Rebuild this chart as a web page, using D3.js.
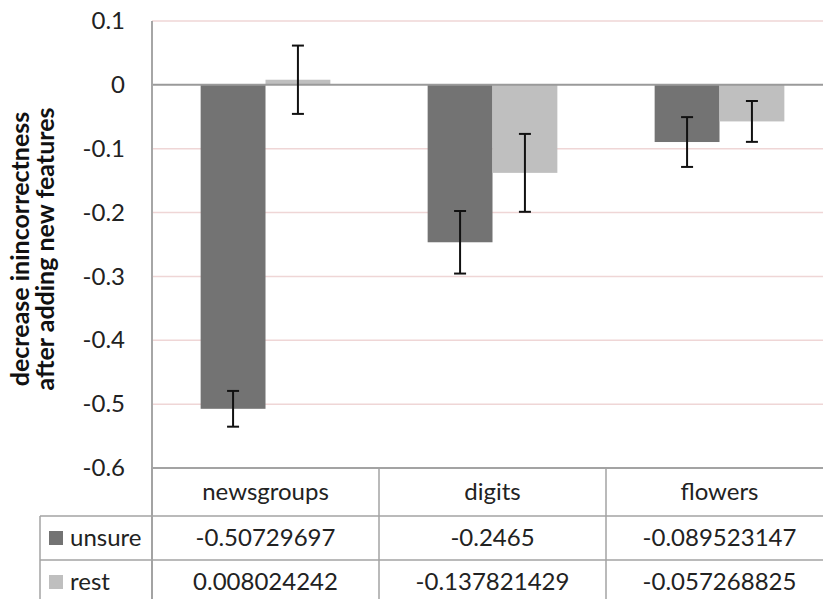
<!DOCTYPE html>
<html>
<head>
<meta charset="utf-8">
<script src="https://cdn.jsdelivr.net/npm/d3@7"></script>
<style>
  html, body { margin: 0; padding: 0; background: #fff; }
  svg { display: block; font-family: Lato, "Open Sans", sans-serif; }
</style>
</head>
<body>
<svg id="chart" width="823" height="599"></svg>
<script>
const categories = ["newsgroups", "digits", "flowers"];
const seriesNames = ["unsure", "rest"];
const unsureValues = [-0.50729697, -0.2465, -0.089523147];
const restValues = [0.008024242, -0.137821429, -0.057268825];
const unsureLabels = ["-0.50729697", "-0.2465", "-0.089523147"];
const restLabels = ["0.008024242", "-0.137821429", "-0.057268825"];
const unsureErrors = [0.028, 0.049, 0.039];
const restErrors = [0.0535, 0.061, 0.032];
const yTicks = [0.1, 0, -0.1, -0.2, -0.3, -0.4, -0.5, -0.6];
const yTickLabels = ["0.1", "0", "-0.1", "-0.2", "-0.3", "-0.4", "-0.5", "-0.6"];
const yLabelLines = ["decrease inincorrectness", "after adding new features"];

const colors = { unsure: "#737373", rest: "#bfbfbf" };
const seriesData = [
  { name: "unsure", values: unsureValues, errors: unsureErrors, labels: unsureLabels },
  { name: "rest", values: restValues, errors: restErrors, labels: restLabels }
];

const svg = d3.select("#chart");
const plotLeft = 152, plotRight = 833, plotTop = 21, plotBottom = 468;
const tableLeft = 40;
const rowH = [48, 44, 44];
const fs = 24;

const y = d3.scaleLinear().domain([-0.6, 0.1]).range([plotBottom, plotTop]);
const x0 = d3.scaleBand().domain(categories).range([plotLeft, plotRight]).paddingInner(0).paddingOuter(0);
const x1 = d3.scaleBand().domain(seriesNames).range([0, x0.bandwidth()]).paddingInner(0).paddingOuter(0.75);

// gridlines
svg.append("g").selectAll("line").data(yTicks.filter(t => t !== 0 && t !== -0.6)).join("line")
  .attr("x1", plotLeft).attr("x2", plotRight)
  .attr("y1", d => y(d)).attr("y2", d => y(d))
  .attr("stroke", "#efd6d6").attr("stroke-width", 1.5);

// y tick labels
const yAxis = d3.axisLeft(y).tickValues(yTicks).tickSize(0).tickPadding(27)
  .tickFormat((d, i) => yTickLabels[i]);
const ya = svg.append("g").attr("transform", `translate(${plotLeft},0)`).call(yAxis);
ya.select(".domain").remove();
ya.selectAll("text").attr("font-size", fs).attr("fill", "#222").attr("font-family", "Lato, sans-serif");

// bars
const groups = svg.append("g").selectAll("g").data(seriesData).join("g");
groups.selectAll("rect").data(s => s.values.map((v, i) => ({ s: s.name, v, i }))).join("rect")
  .attr("x", d => x0(categories[d.i]) + x1(d.s))
  .attr("width", x1.bandwidth())
  .attr("y", d => Math.min(y(0), y(d.v)))
  .attr("height", d => Math.abs(y(d.v) - y(0)))
  .attr("fill", d => colors[d.s]);

// zero line and axes
svg.append("line").attr("x1", plotLeft).attr("x2", plotRight).attr("y1", y(0)).attr("y2", y(0))
  .attr("stroke", "#9a9a9a").attr("stroke-width", 2);
svg.append("line").attr("x1", plotLeft).attr("x2", plotLeft).attr("y1", plotTop).attr("y2", plotBottom)
  .attr("stroke", "#a6a6a6").attr("stroke-width", 2);

// error bars
const eb = svg.append("g");
seriesData.forEach(s => {
  s.values.forEach((v, i) => {
    const cx = x0(categories[i]) + x1(s.name) + x1.bandwidth() / 2;
    const y1 = y(v + s.errors[i]), y2 = y(v - s.errors[i]);
    eb.append("line").attr("x1", cx).attr("x2", cx).attr("y1", y1).attr("y2", y2)
      .attr("stroke", "#111").attr("stroke-width", 2);
    [y1, y2].forEach(yy => eb.append("line").attr("x1", cx - 6).attr("x2", cx + 6)
      .attr("y1", yy).attr("y2", yy).attr("stroke", "#111").attr("stroke-width", 2));
  });
});

// data table
const tbl = svg.append("g");
const lineColor = "#a3a3a3";
const r0 = plotBottom, r1 = r0 + rowH[0], r2 = r1 + rowH[1], r3 = r2 + rowH[2];
tbl.append("line").attr("x1", plotLeft).attr("x2", plotRight).attr("y1", r0).attr("y2", r0).attr("stroke", lineColor).attr("stroke-width", 2);
[r1, r2, r3].forEach(yy => tbl.append("line").attr("x1", tableLeft).attr("x2", plotRight).attr("y1", yy).attr("y2", yy).attr("stroke", lineColor).attr("stroke-width", 1.5));
tbl.append("line").attr("x1", tableLeft).attr("x2", tableLeft).attr("y1", r1).attr("y2", r3).attr("stroke", lineColor).attr("stroke-width", 1.5);
tbl.append("line").attr("x1", plotLeft).attr("x2", plotLeft).attr("y1", r0).attr("y2", r3).attr("stroke", lineColor).attr("stroke-width", 2);
categories.forEach(c => {
  const xe = x0(c) + x0.bandwidth();
  tbl.append("line").attr("x1", xe).attr("x2", xe).attr("y1", r0).attr("y2", r3).attr("stroke", lineColor).attr("stroke-width", 1.5);
});
tbl.selectAll("text.cat").data(categories).join("text").attr("class", "cat")
  .attr("x", d => x0(d) + x0.bandwidth() / 2).attr("y", (r0 + r1) / 2 + 8)
  .attr("text-anchor", "middle").attr("font-size", fs).attr("fill", "#222").text(d => d);
seriesData.forEach((s, k) => {
  const ry0 = k === 0 ? r1 : r2, ry1 = k === 0 ? r2 : r3;
  const cy = (ry0 + ry1) / 2;
  tbl.append("rect").attr("x", 49).attr("y", cy - 7).attr("width", 14).attr("height", 14).attr("fill", colors[s.name]);
  tbl.append("text").attr("x", 70).attr("y", cy + 8).attr("font-size", fs).attr("fill", "#222").text(s.name);
  tbl.selectAll(null).data(s.labels).join("text")
    .attr("x", (d, i) => x0(categories[i]) + x0.bandwidth() / 2).attr("y", cy + 8)
    .attr("text-anchor", "middle").attr("font-size", fs).attr("fill", "#222").text(d => d);
});

// y axis label
const yl = svg.append("text").attr("transform", "translate(0,249) rotate(-90)")
  .attr("text-anchor", "middle").attr("font-weight", "bold").attr("font-size", 25).attr("fill", "#111");
yLabelLines.forEach((t, i) => yl.append("tspan").attr("x", 0).attr("y", 29 + i * 25).text(t));
</script>
</body>
</html>
